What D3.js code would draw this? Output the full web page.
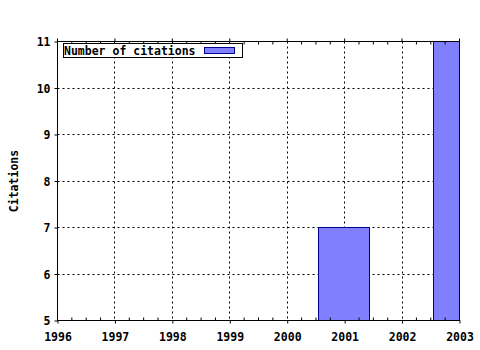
<!DOCTYPE html>
<html>
<head>
<meta charset="utf-8">
<script src="https://cdn.jsdelivr.net/npm/d3@7"></script>
<style>
  body { margin: 0; background: #fff; }
  text { font-family: "DejaVu Sans Mono", monospace; font-weight: bold; font-size: 11.5px; fill: #000; }
</style>
</head>
<body>
<div id="graph"></div>
<script>
const years = [2001, 2003];
const citations = [7, 11];
const xTicks = [1996, 1997, 1998, 1999, 2000, 2001, 2002, 2003];
const yTicks = [5, 6, 7, 8, 9, 10, 11];
const seriesName = "Number of citations";
const yTitle = "Citations";

const fullwidth = 480;
const fullheight = 350;
const plotLeft = 57.5, plotRight = 459.5, plotTop = 41.5, plotBottom = 320.5;
const barWidth = 0.9;

const xScale = d3.scaleLinear().domain([1996, 2003]).range([plotLeft, plotRight]);
const yScale = d3.scaleLinear().domain([5, 11]).range([plotBottom, plotTop]);

const px = v => Math.round(v) + 0.5;

const svg = d3.select("#graph").append("svg")
  .attr("width", fullwidth)
  .attr("height", fullheight);

svg.append("defs").append("clipPath").attr("id", "plot")
  .append("rect")
  .attr("x", plotLeft).attr("y", plotTop)
  .attr("width", plotRight - plotLeft).attr("height", plotBottom - plotTop);

// grid
const grid = svg.append("g").attr("stroke", "#000").attr("stroke-width", 1)
  .attr("stroke-dasharray", "2,3");
grid.selectAll(".gx").data(xTicks.slice(1, -1)).enter().append("line")
  .attr("x1", d => px(xScale(d) - 0.5)).attr("x2", d => px(xScale(d) - 0.5))
  .attr("y1", plotTop).attr("y2", plotBottom);
grid.selectAll(".gy").data(yTicks.slice(1, -1)).enter().append("line")
  .attr("y1", d => px(yScale(d) - 0.5)).attr("y2", d => px(yScale(d) - 0.5))
  .attr("x1", plotLeft).attr("x2", plotRight);

// bars
svg.append("g").attr("clip-path", "url(#plot)")
  .selectAll("rect").data(years).enter().append("rect")
  .attr("x", d => px(xScale(d - barWidth / 2) - 0.5))
  .attr("y", (d, i) => px(yScale(citations[i]) - 0.5))
  .attr("width", d => Math.round(xScale(d + barWidth / 2)) - Math.round(xScale(d - barWidth / 2)))
  .attr("height", (d, i) => Math.round(plotBottom) - Math.round(yScale(citations[i])) + 1)
  .attr("fill", "#8080ff")
  .attr("stroke", "#00008b")
  .attr("stroke-width", 1);

// border
svg.append("rect")
  .attr("x", plotLeft).attr("y", plotTop)
  .attr("width", plotRight - plotLeft).attr("height", plotBottom - plotTop)
  .attr("fill", "none").attr("stroke", "#000");

// axes
const xAxisB = d3.axisBottom(xScale).tickValues(xTicks).tickSize(3).tickFormat(d3.format("d"));
svg.append("g").attr("id", "x-axis").attr("transform", "translate(0," + plotBottom + ")")
  .call(xAxisB)
  .call(g => g.select(".domain").remove())
  .call(g => g.selectAll("text").attr("dy", null).attr("y", 20.5));

const minor = d3.range(1996, 2003.01, 0.25).filter(d => !xTicks.includes(d));
svg.append("g").selectAll("line").data(minor).enter().append("line")
  .attr("x1", d => xScale(d)).attr("x2", d => xScale(d))
  .attr("y1", plotBottom).attr("y2", plotBottom - 3).attr("stroke", "#000");
svg.append("g").selectAll("line").data(minor).enter().append("line")
  .attr("x1", d => xScale(d)).attr("x2", d => xScale(d))
  .attr("y1", plotTop).attr("y2", plotTop + 3).attr("stroke", "#000");
svg.append("g").selectAll("line").data(xTicks).enter().append("line")
  .attr("x1", d => xScale(d)).attr("x2", d => xScale(d))
  .attr("y1", plotTop).attr("y2", plotTop - 3).attr("stroke", "#000");

const yAxis = d3.axisLeft(yScale).tickValues(yTicks).tickSize(3).tickFormat(d3.format("d"));
svg.append("g").attr("id", "y-axis").attr("transform", "translate(" + plotLeft + ",0)")
  .call(yAxis)
  .call(g => g.select(".domain").remove())
  .call(g => g.selectAll("text").attr("x", -7).attr("dy", "0.36em"));

svg.selectAll(".tick text").attr("font-family", null).attr("font-size", null).attr("fill", null);

// y title
svg.append("text")
  .attr("transform", "translate(18," + ((plotTop + plotBottom) / 2) + ") rotate(-90)")
  .attr("text-anchor", "middle")
  .text(yTitle);

// legend
const legend = svg.append("g");
legend.append("rect")
  .attr("x", 63.5).attr("y", 43.5).attr("width", 179).attr("height", 14)
  .attr("fill", "#fff").attr("stroke", "#000");
legend.append("text").attr("x", 64).attr("y", 54.5).text(seriesName);
legend.append("rect")
  .attr("x", 204.5).attr("y", 47.5).attr("width", 30).attr("height", 6)
  .attr("fill", "#8080ff").attr("stroke", "#00008b");
</script>
</body>
</html>
